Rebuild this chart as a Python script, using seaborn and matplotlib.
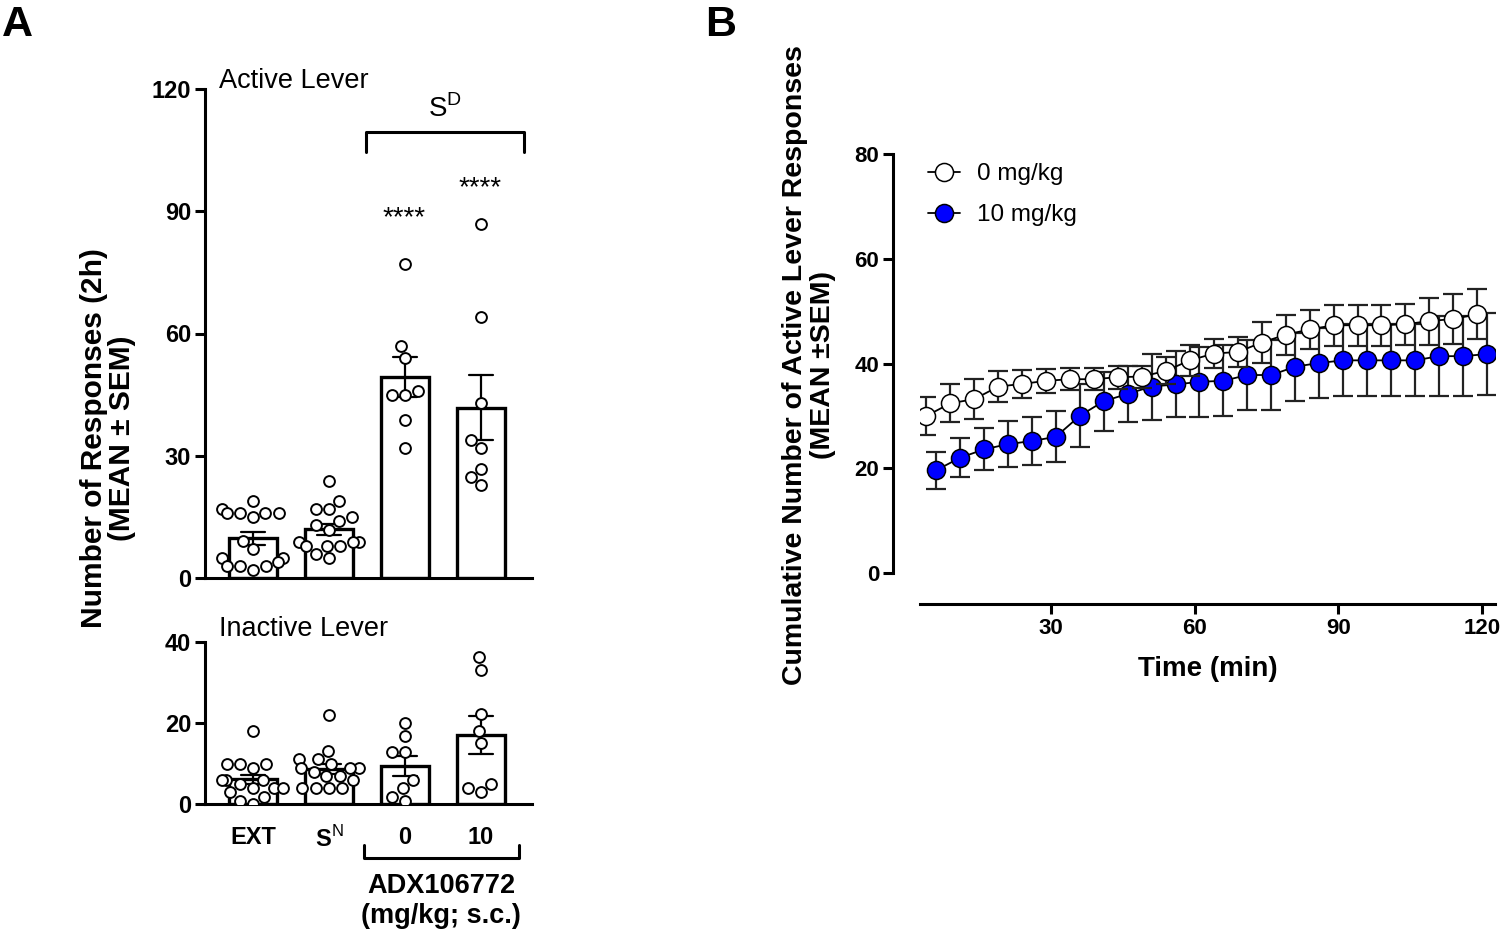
import numpy as np
import pandas as pd
import matplotlib
matplotlib.use("Agg")
import matplotlib.pyplot as plt
import seaborn as sns
from matplotlib.lines import Line2D

# ---- panel A data (individual rats) ----
groups = ["EXT", "SN", "0", "10"]
group_labels = ["EXT", "S$^\\mathrm{N}$", "0", "10"]

active_ext = [14.9, 16.0, 17.0, 19.0, 16.0, 16.0, 16.0, 9.0, 7.0, 5.0, 5.0, 3.0, 3.0, 4.0, 2.0, 3.0]
active_sn = [23.9, 19.0, 16.9, 16.9, 14.9, 13.9, 12.9, 11.9, 8.9, 8.9, 7.9, 8.9, 7.9, 7.9, 5.9, 4.8]
active_0 = [77.0, 56.9, 53.9, 45.9, 44.9, 44.9, 38.8, 31.9]
active_10 = [86.9, 64.0, 42.9, 33.9, 31.9, 26.8, 24.9, 22.9]

inactive_ext = [18.1, 10.0, 10.0, 10.0, 9.0, 5.9, 5.9, 5.9, 4.9, 3.9, 3.9, 3.9, 2.9, 1.8, 0.8, 0.0]
inactive_sn = [22.0, 13.1, 11.1, 10.0, 9.0, 9.0, 11.1, 9.0, 7.0, 7.0, 8.0, 5.9, 3.9, 3.9, 3.9, 3.9]
inactive_0 = [20.1, 16.9, 12.9, 12.9, 5.9, 3.9, 1.8, 0.8]
inactive_10 = [36.2, 33.1, 22.1, 18.1, 15.0, 4.9, 2.9, 3.9]

# ---- panel B data (mean +/- SEM every 5 min) ----
times = [5, 10, 15, 20, 25, 30, 35, 40, 45, 50, 55, 60,
         65, 70, 75, 80, 85, 90, 95, 100, 105, 110, 115, 120]
veh_mean = [30.0, 32.4, 33.2, 35.6, 36.1, 36.7, 37.0, 37.0, 37.4, 37.5, 38.6, 40.6,
            41.9, 42.2, 44.0, 45.5, 46.5, 47.3, 47.3, 47.3, 47.5, 48.1, 48.5, 49.4]
veh_sem = [3.6, 3.6, 3.8, 2.9, 2.7, 2.3, 2.1, 2.1, 2.2, 2.1, 2.6, 2.9,
           2.8, 2.8, 3.9, 3.8, 3.7, 3.9, 3.9, 3.9, 3.9, 4.5, 4.7, 4.8]
adx_mean = [19.6, 22.0, 23.6, 24.6, 25.2, 26.0, 30.0, 32.8, 34.2, 35.6, 36.0, 36.5,
            36.7, 37.8, 37.8, 39.4, 40.1, 40.6, 40.6, 40.6, 40.6, 41.4, 41.4, 41.8]
adx_sem = [3.5, 3.75, 4.0, 4.35, 4.55, 4.9, 6.0, 5.6, 5.4, 6.3, 6.3, 6.7,
           6.8, 6.6, 6.6, 6.5, 6.7, 6.9, 6.9, 6.9, 6.9, 7.6, 7.6, 7.8]


def make_df(vals):
    rows = []
    for g, v in zip(groups, vals):
        rows += [(g, x) for x in v]
    return pd.DataFrame(rows, columns=["group", "value"])


active = make_df([active_ext, active_sn, active_0, active_10])
inactive = make_df([inactive_ext, inactive_sn, inactive_0, inactive_10])

sns.set_theme(style="ticks")
plt.rcParams["font.family"] = ["Liberation Sans", "DejaVu Sans"]
plt.rcParams["mathtext.fontset"] = "custom"
plt.rcParams["mathtext.rm"] = "Liberation Sans"
plt.rcParams["mathtext.bf"] = "Liberation Sans:bold"
plt.rcParams.update({"text.color": "black", "axes.labelcolor": "black",
                     "xtick.color": "black", "ytick.color": "black"})

W, H = 1500, 931
fig = plt.figure(figsize=(15, 9.31), dpi=100)


def px(x, y):
    return x / W, 1 - y / H


axA = fig.add_axes([205 / W, 1 - 578 / H, 327 / W, 489 / H])
axA2 = fig.add_axes([205 / W, 1 - 804 / H, 327 / W, 162 / H])
axB = fig.add_axes([920 / W, 1 - 573 / H, 575 / W, 419 / H])


def bar_panel(ax, df, ymax, step):
    sns.barplot(data=df, x="group", y="value", order=groups, errorbar="se",
                capsize=0.32, width=0.63, color="white", saturation=1,
                edgecolor="black", linewidth=2.4,
                err_kws={"color": "black", "linewidth": 1.6}, ax=ax)
    sns.swarmplot(data=df, x="group", y="value", order=groups, color="white",
                  edgecolor="black", linewidth=1.4, size=7.8, ax=ax, zorder=5)
    ax.set_xlim(-0.63, 3.67)
    ax.set_ylim(0, ymax)
    ax.set_yticks(np.arange(0, ymax + 1, step))
    ax.set_xlabel("")
    ax.set_ylabel("")
    sns.despine(ax=ax)
    for s in ["left", "bottom"]:
        ax.spines[s].set_linewidth(2.2)
        ax.spines[s].set_color("black")
    ax.spines["left"].set_bounds(0, ymax)
    ax.tick_params(axis="y", length=7, width=2.2, labelsize=17, pad=3)
    ax.tick_params(axis="x", length=0, labelsize=17, pad=16)
    for lab in ax.get_yticklabels():
        lab.set_fontweight("bold")


bar_panel(axA, active, 120, 30)
axA.set_xticklabels([])
bar_panel(axA2, inactive, 40, 20)
axA2.set_xticklabels(group_labels, fontweight="bold")

# panel A annotations
fig.text(*px(2, 36), "A", fontsize=31, fontweight="bold", va="baseline")
fig.text(*px(219, 88), "Active Lever", fontsize=19.5, va="baseline")
fig.text(*px(219, 636), "Inactive Lever", fontsize=19.5, va="baseline")
fig.text(*px(445, 117), "S$^\\mathrm{D}$", fontsize=20, ha="center", va="baseline")
fig.add_artist(Line2D([366 / W, 366 / W, 524 / W, 524 / W],
                      [1 - 152 / H, 1 - 132 / H, 1 - 132 / H, 1 - 152 / H],
                      color="black", lw=2.2, transform=fig.transFigure))
fig.text(*px(404, 225), "****", fontsize=20, ha="center", va="baseline")
fig.text(*px(480, 195), "****", fontsize=20, ha="center", va="baseline")
fig.add_artist(Line2D([364 / W, 364 / W, 519 / W, 519 / W],
                      [1 - 845 / H, 1 - 858 / H, 1 - 858 / H, 1 - 845 / H],
                      color="black", lw=2.2, transform=fig.transFigure))
fig.text(*px(441, 893), "ADX106772", fontsize=19.5, fontweight="bold", ha="center", va="baseline")
fig.text(*px(441, 923), "(mg/kg; s.c.)", fontsize=19.5, fontweight="bold", ha="center", va="baseline")
fig.text(*px(108, 438), "Number of Responses (2h)\n(MEAN \u00b1 SEM)", rotation=90,
         fontsize=21.5, fontweight="bold", ha="center", va="center", linespacing=1.0)

# ---- panel B ----
t = np.array(times, dtype=float)
blue = "#0000ff"

axB.errorbar(t + 1.0, adx_mean, yerr=adx_sem, fmt="none", ecolor="#222222",
             elinewidth=1.6, capsize=7, capthick=1.6, zorder=2)
sns.lineplot(x=t + 1.0, y=adx_mean, color="black", lw=1.3, marker="o", markersize=13,
             markerfacecolor=blue, markeredgecolor="black", markeredgewidth=1.1,
             errorbar=None, ax=axB, zorder=3)
axB.errorbar(t - 1.0, veh_mean, yerr=veh_sem, fmt="none", ecolor="#222222",
             elinewidth=1.6, capsize=7, capthick=1.6, zorder=4)
sns.lineplot(x=t - 1.0, y=veh_mean, color="black", lw=1.3, marker="o", markersize=13,
             markerfacecolor="white", markeredgecolor="black", markeredgewidth=1.1,
             errorbar=None, ax=axB, zorder=5)

axB.set_xlim(2.65, 122.7)
axB.set_ylim(0, 80)
axB.set_xticks([30, 60, 90, 120])
axB.set_yticks([0, 20, 40, 60, 80])
sns.despine(ax=axB)
axB.spines["left"].set_position(("outward", 19.4))
axB.spines["bottom"].set_position(("outward", 22.3))
axB.spines["left"].set_bounds(0, 80)
for s in ["left", "bottom"]:
    axB.spines[s].set_linewidth(2.2)
    axB.spines[s].set_color("black")
axB.tick_params(length=7, width=2.2, labelsize=16, pad=3)
for lab in axB.get_xticklabels() + axB.get_yticklabels():
    lab.set_fontweight("bold")
axB.set_xlabel("Time (min)", fontsize=20, fontweight="bold", labelpad=12)
axB.set_ylabel("")

handles = [
    Line2D([], [], color="black", lw=1.3, marker="o", markersize=13,
           markerfacecolor="white", markeredgecolor="black", markeredgewidth=1.1),
    Line2D([], [], color="black", lw=1.3, marker="o", markersize=13,
           markerfacecolor=blue, markeredgecolor="black", markeredgewidth=1.1),
]
axB.legend(handles, ["0 mg/kg", "10 mg/kg"], loc="upper left",
           bbox_to_anchor=px(928, 163), bbox_transform=fig.transFigure,
           frameon=False, fontsize=17.5, handlelength=1.3, handletextpad=0.7,
           labelspacing=0.8, borderpad=0, borderaxespad=0)

fig.text(*px(705, 36), "B", fontsize=31, fontweight="bold", va="baseline")
fig.text(*px(809, 365), "Cumulative Number of Active Lever Responses\n(MEAN \u00b1SEM)",
         rotation=90, fontsize=20.5, fontweight="bold", ha="center", va="center",
         linespacing=1.05)

fig.savefig("out.png", dpi=100, facecolor="white")
